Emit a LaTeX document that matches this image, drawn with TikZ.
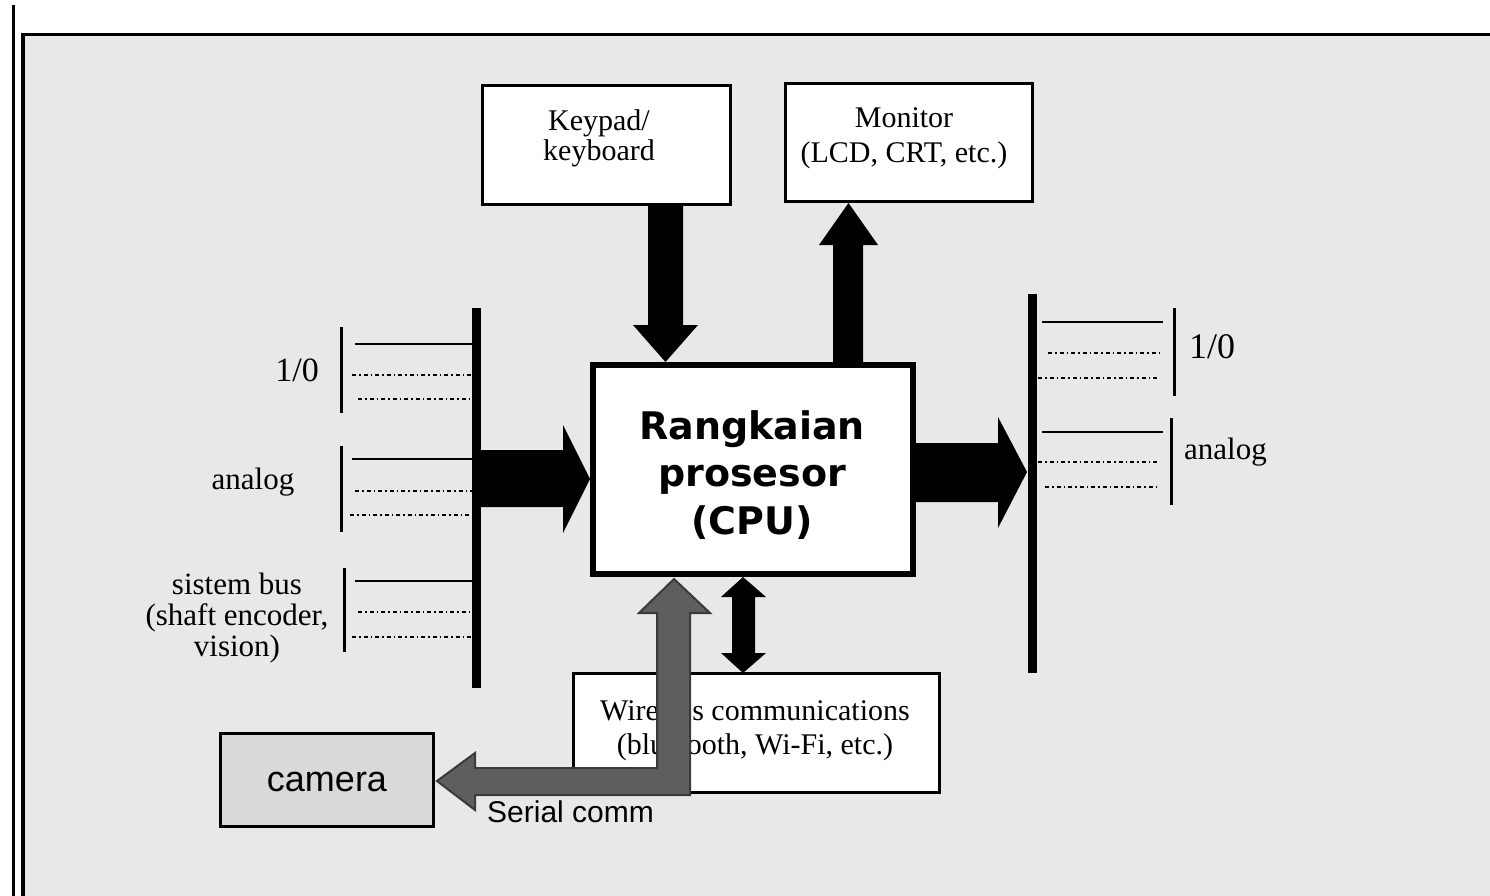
\documentclass[tikz,border=0pt]{standalone}
\usepackage{fontspec}
\setmainfont{Liberation Serif}
\newfontfamily\sansf{Liberation Sans}
\newfontfamily\cpuf{DejaVu Sans}
\definecolor{bgray}{HTML}{E8E8E8}
\definecolor{camgray}{HTML}{D9D9D9}
\definecolor{sergray}{HTML}{5E5E5E}
\definecolor{serline}{HTML}{3A3A3A}
\tikzset{
  box/.style={draw=black, line width=3pt, fill=white, inner sep=0pt},
  txt/.style={align=center, inner sep=0pt},
  bus/.style={fill=black, inner sep=0pt, minimum width=9pt},
  solidln/.style={line width=2.5pt},
  dotln/.style={line width=2.5pt, dash pattern=on 4pt off 3pt on 1.5pt off 3pt},
  brk/.style={line width=3pt},
  fat/.style={fill=black},
  serialarrow/.style={fill=sergray, draw=serline, line width=2pt, line join=miter}
}
\begin{document}
\begin{tikzpicture}[x=1pt,y=-1pt]
\useasboundingbox (0,0) rectangle (1490,896);
% frame
\fill[bgray] (23,34) rectangle (1490,896);
\draw[line width=3pt] (13.5,5) -- (13.5,896);
\draw[line width=3.5pt] (21,34.5) -- (1490,34.5);
\draw[line width=4pt] (23,33) -- (23,896);

% boxes
\node[box, minimum width=248pt, minimum height=119pt] (kp) at (606.5,145) {};
\node[txt, font=\fontsize{30}{30}\selectfont] (kpt) at (599,138) {Keypad/\\keyboard};
\node[box, minimum width=247pt, minimum height=118pt] (mon) at (909,142.5) {};
\node[txt, font=\fontsize{30}{35}\selectfont] (mont) at (904,138) {Monitor\\(LCD, CRT, etc.)};
\node[box, line width=6pt, minimum width=320pt, minimum height=209pt] (cpu) at (753,469.5) {};
\node[txt, font=\cpuf\bfseries\fontsize{38}{47.5}\selectfont] (cput) at (752,475) {Rangkaian\\prosesor\\(CPU)};
\node[box, fill=camgray, minimum width=213pt, minimum height=93pt] (cam) at (327,780) {};
\node[txt, font=\sansf\fontsize{36}{36}\selectfont] (camt) at (327,782) {camera};

% bus bars
\node[bus, minimum height=380pt] (lbar) at (476.5,498) {};
\node[bus, minimum height=379pt] (rbar) at (1032,483.5) {};

% left I/O lines
\node[txt, anchor=east, font=\fontsize{34}{34}\selectfont] (lio) at (319,370) {1/0};
\draw[brk] (341,327) -- (341,413);
\draw[solidln] (355,344) -- (473,344);
\draw[dotln] (352,375) -- (472,375);
\draw[dotln] (358,399) -- (472,399);
\node[txt, font=\fontsize{31}{31}\selectfont] (lan) at (253,482) {analog};
\draw[brk] (341,446) -- (341,532);
\draw[solidln] (352,459) -- (473,459);
\draw[dotln] (355,491) -- (472,491);
\draw[dotln] (350,515) -- (472,515);
\node[txt, font=\fontsize{31}{31}\selectfont] (lsb) at (237,618) {sistem bus\\(shaft encoder,\\vision)};
\draw[brk] (344,568) -- (344,652);
\draw[solidln] (355,581) -- (473,581);
\draw[dotln] (358,612) -- (472,612);
\draw[dotln] (352,637) -- (472,637);

% right I/O lines
\node[txt, anchor=west, font=\fontsize{36}{36}\selectfont] (rio) at (1189,347) {1/0};
\draw[brk] (1174,308) -- (1174,396);
\draw[solidln] (1042,322) -- (1163,322);
\draw[dotln] (1048,353) -- (1160,353);
\draw[dotln] (1038,378) -- (1158,378);
\node[txt, anchor=west, font=\fontsize{31}{31}\selectfont] (ran) at (1184,452) {analog};
\draw[brk] (1171,418) -- (1171,505);
\draw[solidln] (1042,432) -- (1163,432);
\draw[dotln] (1038,462) -- (1158,462);
\draw[dotln] (1045,487) -- (1158,487);

% fat black arrows
\fill[fat] (481,450) -- (563,450) -- (563,425) -- (590,479) -- (563,533) -- (563,507) -- (481,507) -- cycle;
\fill[fat] (916,443) -- (998,443) -- (998,417) -- (1027,472) -- (998,528) -- (998,502) -- (916,502) -- cycle;
\fill[fat] (648,206) -- (683,206) -- (683,325) -- (698,325) -- (665.5,362) -- (633,325) -- (648,325) -- cycle;
\fill[fat] (833,362) -- (833,245) -- (819,245) -- (848.5,203) -- (878,245) -- (863,245) -- (863,362) -- cycle;
\fill[fat] (743,577) -- (766,597) -- (755,597) -- (755,653) -- (766,653) -- (743,673) -- (721,653) -- (732,653) -- (732,597) -- (721,597) -- cycle;

% wireless box
\node[box, minimum width=366pt, minimum height=119pt] (wl) at (756.5,733) {};
\node[txt, font=\fontsize{30}{34}\selectfont] (wlt) at (755,730) {Wireless communications\\(bluetooth, Wi-Fi, etc.)};

% serial comm arrow
\draw[serialarrow] (674,579) -- (710,613) -- (690,613) -- (690,795) -- (475,795) -- (475,810) -- (437,781) -- (475,753) -- (475,768) -- (657,768) -- (657,613) -- (639,613) -- cycle;
\node[txt, anchor=west, font=\sansf\fontsize{30}{30}\selectfont] (sct) at (487,812) {Serial comm};
\end{tikzpicture}
\end{document}
